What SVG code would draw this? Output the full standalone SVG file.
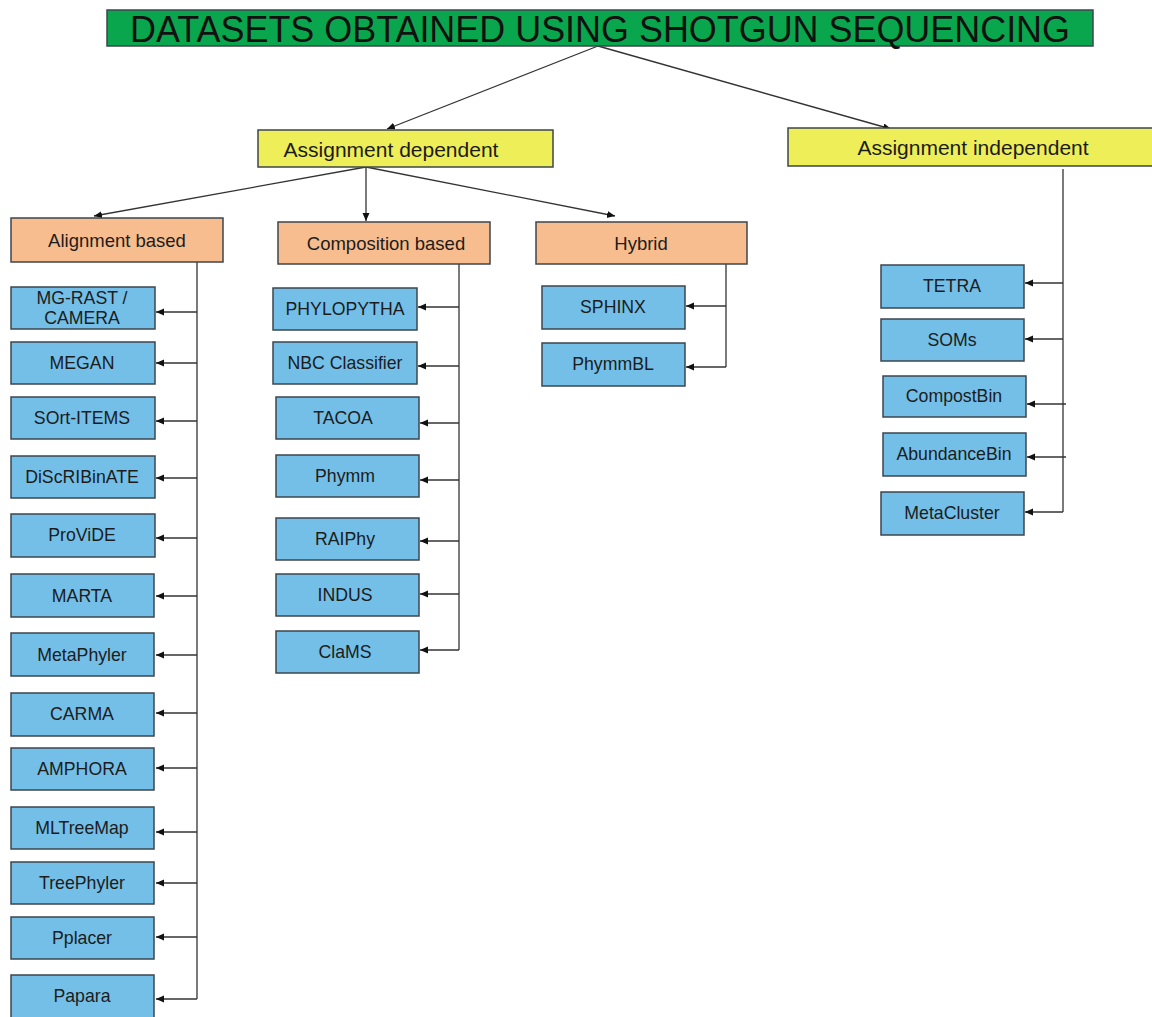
<svg xmlns="http://www.w3.org/2000/svg" width="1152" height="1017" viewBox="0 0 1152 1017">
<defs>
<marker id="ah" markerUnits="userSpaceOnUse" markerWidth="9" markerHeight="8" refX="8" refY="3.5" orient="auto">
<path d="M0,0 L8,3.5 L0,7 z" fill="#111"/>
</marker>
<style>
.box rect{stroke:#3c464e;stroke-width:1.5}
.title rect{fill:#0aa64e}
.yel rect{fill:#eeee58}
.ora rect{fill:#f8bd8e}
.blu rect{fill:#73bfe8}
text{font-family:"Liberation Sans",Arial,sans-serif;fill:#1c1c1c;text-anchor:middle;dominant-baseline:central}
.blu text{font-size:17.7px}
.ora text{font-size:18.5px}
.yel text{font-size:21px}
.title text{font-size:36px;fill:#111}
#connectors line{stroke:#333;stroke-width:1.3;fill:none}
#connectors .a{marker-end:url(#ah)}
</style>
</defs>
<rect width="1152" height="1017" fill="#fff"/>

<g id="connectors">
<line class="a" x1="598" y1="46" x2="387" y2="129"/>
<line class="a" x1="598" y1="46" x2="891" y2="129"/>
<line class="a" x1="366" y1="167" x2="94" y2="216"/>
<line class="a" x1="366" y1="167" x2="366" y2="221"/>
<line class="a" x1="366" y1="167" x2="615" y2="216"/>
<line x1="197" y1="262" x2="197" y2="999"/>
<line class="a" x1="197" y1="312" x2="156" y2="312"/>
<line class="a" x1="197" y1="363" x2="156" y2="363"/>
<line class="a" x1="197" y1="421" x2="156" y2="421"/>
<line class="a" x1="197" y1="478" x2="156" y2="478"/>
<line class="a" x1="197" y1="538" x2="156" y2="538"/>
<line class="a" x1="197" y1="596" x2="156" y2="596"/>
<line class="a" x1="197" y1="655" x2="156" y2="655"/>
<line class="a" x1="197" y1="713" x2="156" y2="713"/>
<line class="a" x1="197" y1="768" x2="156" y2="768"/>
<line class="a" x1="197" y1="832" x2="156" y2="832"/>
<line class="a" x1="197" y1="883" x2="156" y2="883"/>
<line class="a" x1="197" y1="937" x2="156" y2="937"/>
<line class="a" x1="197" y1="999" x2="156" y2="999"/>
<line x1="459" y1="264" x2="459" y2="650"/>
<line class="a" x1="459" y1="307" x2="418" y2="307"/>
<line class="a" x1="459" y1="366" x2="418" y2="366"/>
<line class="a" x1="459" y1="423" x2="420" y2="423"/>
<line class="a" x1="459" y1="480" x2="420" y2="480"/>
<line class="a" x1="459" y1="541" x2="420" y2="541"/>
<line class="a" x1="459" y1="594" x2="420" y2="594"/>
<line class="a" x1="459" y1="650" x2="420" y2="650"/>
<line x1="726" y1="264" x2="726" y2="367"/>
<line class="a" x1="726" y1="306" x2="686" y2="306"/>
<line class="a" x1="726" y1="367" x2="686" y2="367"/>
<line x1="1063" y1="169" x2="1063" y2="512"/>
<line class="a" x1="1063" y1="283" x2="1025" y2="283"/>
<line class="a" x1="1063" y1="339" x2="1025" y2="339"/>
<line class="a" x1="1066" y1="404" x2="1027" y2="404"/>
<line class="a" x1="1066" y1="457" x2="1027" y2="457"/>
<line class="a" x1="1063" y1="512" x2="1025" y2="512"/>
</g>

<g id="n-title" class="box title"><rect x="107" y="10" width="986" height="36"/><text x="600" y="29" textLength="940" lengthAdjust="spacingAndGlyphs">DATASETS OBTAINED USING SHOTGUN SEQUENCING</text></g>

<g id="n-dep" class="box yel"><rect x="258" y="130" width="295" height="37"/><text x="391" y="149">Assignment dependent</text></g>
<g id="n-indep" class="box yel"><rect x="788" y="128" width="370" height="38"/><text x="973" y="147">Assignment independent</text></g>

<g id="n-align" class="box ora"><rect x="11" y="218" width="212" height="44"/><text x="117" y="240">Alignment based</text></g>
<g id="n-comp" class="box ora"><rect x="278" y="222" width="212" height="42"/><text x="386" y="243">Composition based</text></g>
<g id="n-hyb" class="box ora"><rect x="536" y="222" width="211" height="42"/><text x="641" y="243">Hybrid</text></g>

<g id="n-mgrast" class="box blu"><rect x="11" y="287" width="144" height="42"/><text x="82" y="298">MG-RAST /</text><text x="82" y="318">CAMERA</text></g>
<g id="n-megan" class="box blu"><rect x="11" y="342" width="144" height="42"/><text x="82" y="363">MEGAN</text></g>
<g id="n-sort" class="box blu"><rect x="11" y="397" width="144" height="42"/><text x="82" y="418">SOrt-ITEMS</text></g>
<g id="n-discr" class="box blu"><rect x="11" y="456" width="144" height="42"/><text x="82" y="477">DiScRIBinATE</text></g>
<g id="n-provide" class="box blu"><rect x="11" y="514" width="144" height="43"/><text x="82" y="535">ProViDE</text></g>
<g id="n-marta" class="box blu"><rect x="11" y="574" width="143" height="43"/><text x="82" y="596">MARTA</text></g>
<g id="n-metaphyler" class="box blu"><rect x="11" y="633" width="143" height="43"/><text x="82" y="655">MetaPhyler</text></g>
<g id="n-carma" class="box blu"><rect x="11" y="693" width="143" height="43"/><text x="82" y="714">CARMA</text></g>
<g id="n-amphora" class="box blu"><rect x="11" y="748" width="143" height="42"/><text x="82" y="769">AMPHORA</text></g>
<g id="n-mltreemap" class="box blu"><rect x="11" y="807" width="143" height="42"/><text x="82" y="828">MLTreeMap</text></g>
<g id="n-treephyler" class="box blu"><rect x="11" y="862" width="143" height="42"/><text x="82" y="883">TreePhyler</text></g>
<g id="n-pplacer" class="box blu"><rect x="11" y="917" width="143" height="42"/><text x="82" y="938">Pplacer</text></g>
<g id="n-papara" class="box blu"><rect x="11" y="975" width="143" height="44"/><text x="82" y="996">Papara</text></g>

<g id="n-phylopytha" class="box blu"><rect x="273" y="288" width="144" height="42"/><text x="345" y="309">PHYLOPYTHA</text></g>
<g id="n-nbc" class="box blu"><rect x="273" y="342" width="144" height="42"/><text x="345" y="363">NBC Classifier</text></g>
<g id="n-tacoa" class="box blu"><rect x="276" y="397" width="143" height="42"/><text x="343" y="418">TACOA</text></g>
<g id="n-phymm" class="box blu"><rect x="276" y="455" width="143" height="42"/><text x="345" y="476">Phymm</text></g>
<g id="n-raiphy" class="box blu"><rect x="276" y="518" width="143" height="42"/><text x="345" y="539">RAIPhy</text></g>
<g id="n-indus" class="box blu"><rect x="276" y="574" width="143" height="42"/><text x="345" y="595">INDUS</text></g>
<g id="n-clams" class="box blu"><rect x="276" y="631" width="143" height="42"/><text x="345" y="652">ClaMS</text></g>

<g id="n-sphinx" class="box blu"><rect x="542" y="286" width="143" height="43"/><text x="613" y="307">SPHINX</text></g>
<g id="n-phymmbl" class="box blu"><rect x="542" y="343" width="143" height="43"/><text x="613" y="364">PhymmBL</text></g>

<g id="n-tetra" class="box blu"><rect x="881" y="265" width="143" height="43"/><text x="952" y="286">TETRA</text></g>
<g id="n-soms" class="box blu"><rect x="881" y="319" width="143" height="42"/><text x="952" y="340">SOMs</text></g>
<g id="n-compostbin" class="box blu"><rect x="883" y="376" width="143" height="41"/><text x="954" y="396">CompostBin</text></g>
<g id="n-abundancebin" class="box blu"><rect x="883" y="433" width="143" height="43"/><text x="954" y="454">AbundanceBin</text></g>
<g id="n-metacluster" class="box blu"><rect x="881" y="492" width="143" height="43"/><text x="952" y="513">MetaCluster</text></g>
</svg>
